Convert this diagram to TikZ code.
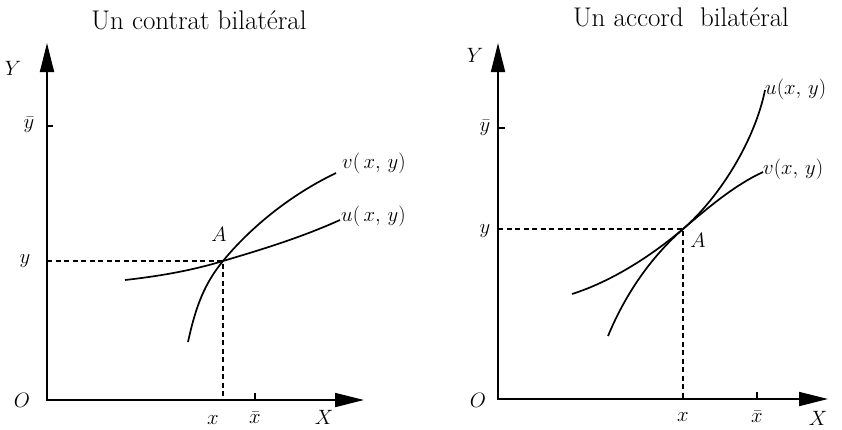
\documentclass[tikz,border=0pt]{standalone}
\usepackage{tikz}
\usetikzlibrary{arrows.meta,positioning,calc}

\begin{document}
\begin{tikzpicture}[
  x=1pt, y=-1pt,
  axis/.style={line width=1.8pt, line join=miter,
               {Triangle[length=29pt,width=14pt]}-{Triangle[length=29pt,width=14pt]}},
  tickmark/.style={line width=1.5pt},
  curve/.style={line width=1.7pt},
  guide/.style={line width=1.4pt, dash pattern=on 5pt off 3.5pt},
  lbl/.style={font=\fontsize{20}{24}\selectfont, inner sep=0pt},
  ttl/.style={font=\fontsize{27}{31}\selectfont, inner sep=0pt},
]
  \useasboundingbox (0,0) rectangle (842,429);

  % left: un contrat bilateral
  \node[ttl](t1) at (199,20){Un contrat bilatéral};
  \coordinate (o1) at (47,400); \coordinate (ytop1) at (47,43);
  \coordinate (xend1) at (364,400); \coordinate (a1) at (223,261);
  \coordinate (yb1) at (47,126); \coordinate (xb1) at (255,400);
  \draw[axis](ytop1)--(o1)--(xend1);
  \draw[tickmark](yb1)--++(6,0); \draw[tickmark](xb1)--++(0,-7);
  \draw[guide](o1 |- a1)--(a1)--(a1 |- o1);
  \draw[curve](125,280) .. controls (170,275) and (200,268) .. (a1)
                        .. controls (260,250) and (300,238) .. (340,220) coordinate (u1);
  \draw[curve](188,342) .. controls (196,305) and (205,283) .. (a1)
                        .. controls (250,228) and (290,195) .. (336,173) coordinate (v1);
  \node[lbl,anchor=west](v1l) at ($(v1)+(6,-10)$){$v(\,x,\,y)$};
  \node[lbl,anchor=west](u1l) at ($(u1)+(1,-4)$){$u(\,x,\,y)$};
  \node[lbl](a1l) at (219,234){$A$};
  \node[lbl](y1l) at (25,261){$y$};
  \node[lbl](yb1l) at (29,125){$\bar{y}$};
  \node[lbl](Y1l) at (13,68){$Y$};
  \node[lbl](o1l) at (22,400){$O$};
  \node[lbl](x1l) at (213,420){$x$};
  \node[lbl](xb1l) at (255,418){$\bar{x}$};
  \node[lbl](X1l) at (324,417){$X$};

  % right: un accord bilateral
  \node[ttl](t2) at (681,17){Un accord\ \ bilatéral};
  \coordinate (o2) at (498,399); \coordinate (ytop2) at (498,43);
  \coordinate (xend2) at (828,399); \coordinate (a2) at (683,229);
  \coordinate (yb2) at (498,128); \coordinate (xb2) at (757,399);
  \draw[axis](ytop2)--(o2)--(xend2);
  \draw[tickmark](yb2)--++(7,0); \draw[tickmark](xb2)--++(0,-7);
  \draw[guide](o2 |- a2)--(a2)--(a2 |- o2);
  \draw[curve](572,294) .. controls (610,282) and (650,257) .. (a2)
                        .. controls (710,206) and (735,185) .. (763,172) coordinate (v2);
  \draw[curve](608,336) .. controls (625,295) and (650,258) .. (a2)
                        .. controls (720,197) and (755,140) .. (765,90) coordinate (u2);
  \node[lbl,anchor=west](u2l) at ($(u2)+(0,-1)$){$u(x,\,y)$};
  \node[lbl,anchor=west](v2l) at ($(v2)+(0,-3)$){$v(x,\,y)$};
  \node[lbl](a2l) at (698,240){$A$};
  \node[lbl](y2l) at (485,231){$y$};
  \node[lbl](yb2l) at (485,128){$\bar{y}$};
  \node[lbl](Y2l) at (475,55){$Y$};
  \node[lbl](o2l) at (478,400){$O$};
  \node[lbl](x2l) at (683,417){$x$};
  \node[lbl](xb2l) at (757,417){$\bar{x}$};
  \node[lbl](X2l) at (818,418){$X$};
\end{tikzpicture}
\end{document}
